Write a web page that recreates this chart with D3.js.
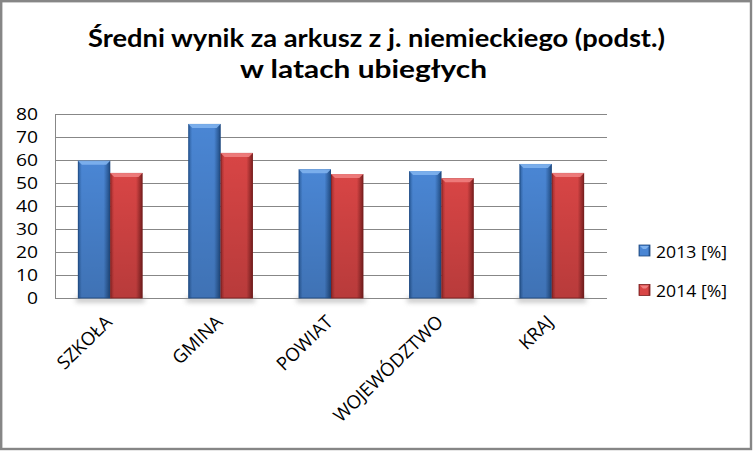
<!DOCTYPE html>
<html>
<head>
<meta charset="utf-8">
<script src="https://cdn.jsdelivr.net/npm/d3@7"></script>
<style>
  body { margin: 0; background: #fff; }
  text { font-family: "Open Sans", "DejaVu Sans", sans-serif; fill: #000; }
</style>
</head>
<body>
<div id="chart"></div>
<script>
const categories = ["SZKOŁA", "GMINA", "POWIAT", "WOJEWÓDZTWO", "KRAJ"]
const series = ["2013 [%]", "2014 [%]"]
const values2013 = [59.8, 75.8, 56.1, 55.3, 58.4]
const values2014 = [54.5, 63.2, 54.0, 52.2, 54.5]
const yTicks = [0, 10, 20, 30, 40, 50, 60, 70, 80]
const titleLines = ["Średni wynik za arkusz z j. niemieckiego (podst.)", "w latach ubiegłych"]

const W = 753, H = 451
const plot = {left: 55, right: 607, top: 114.3, bottom: 298.3}
const colors = [
  {mid: "#4a86d4", edge: "#2b5d9c", dark: "#1f4a80", bevel: "#7fb2ee"},
  {mid: "#d84545", edge: "#9e2b2b", dark: "#7a1f1f", bevel: "#f08080"}
]

const svg = d3.select("#chart").append("svg").attr("width", W).attr("height", H)
const defs = svg.append("defs")

colors.forEach((c, i) => {
  const g = defs.append("linearGradient").attr("id", "bar" + i).attr("x1", 0).attr("x2", 1).attr("y1", 0).attr("y2", 0)
  g.append("stop").attr("offset", 0).attr("stop-color", c.edge)
  g.append("stop").attr("offset", 0.12).attr("stop-color", c.mid)
  g.append("stop").attr("offset", 0.8).attr("stop-color", c.mid)
  g.append("stop").attr("offset", 1).attr("stop-color", c.dark)
  const v = defs.append("linearGradient").attr("id", "shade" + i).attr("x1", 0).attr("x2", 0).attr("y1", 0).attr("y2", 1)
  v.append("stop").attr("offset", 0).attr("stop-color", "#000").attr("stop-opacity", 0)
  v.append("stop").attr("offset", 1).attr("stop-color", "#000").attr("stop-opacity", 0.15)
})
defs.append("filter").attr("id", "blur").attr("x", "-20%").attr("y", "-100%").attr("width", "140%").attr("height", "300%")
  .append("feGaussianBlur").attr("stdDeviation", 2.5)

// frame
svg.append("rect").attr("x", 1.2).attr("y", 1.2).attr("width", W - 3.2).attr("height", H - 3.2)
  .attr("fill", "#fff").attr("stroke", "#868686").attr("stroke-width", 2.4)

// title
svg.selectAll("text.title").data(titleLines).join("text").attr("class", "title")
  .attr("x", (d, i) => i ? 363.5 : 376.5).attr("y", (d, i) => i ? 78 : 46.7)
  .attr("text-anchor", "middle").attr("font-size", 24).attr("font-weight", "bold")
  .style("font-family", "Lato, sans-serif")
  .attr("textLength", (d, i) => i ? 247 : 577).attr("lengthAdjust", "spacingAndGlyphs")
  .text(d => d)

const x0 = d3.scaleBand().domain(categories).range([plot.left, plot.right]).paddingInner(0).paddingOuter(0)
const bw = 32.3
const x1 = d3.scaleBand().domain(series).range([0, bw * 2])
const y = d3.scaleLinear().domain([0, 80]).range([plot.bottom, plot.top])

// grid
svg.append("g").selectAll("line").data(yTicks).join("line")
  .attr("x1", plot.left).attr("x2", plot.right)
  .attr("y1", d => Math.round(y(d)) + 0.5).attr("y2", d => Math.round(y(d)) + 0.5)
  .attr("stroke", "#878787").attr("stroke-width", 1)
svg.append("line").attr("x1", plot.left + 0.5).attr("x2", plot.left + 0.5)
  .attr("y1", y(80)).attr("y2", y(0)).attr("stroke", "#878787")

// y axis labels
const yAxis = svg.append("g").attr("transform", `translate(${plot.left - 17},0)`)
  .call(d3.axisLeft(y).tickValues(yTicks).tickSize(0).tickPadding(0))
yAxis.select(".domain").remove()
yAxis.selectAll("text").attr("font-size", 16).attr("fill", "#000")
  .attr("font-family", "\"Open Sans\", sans-serif").attr("dy", "0.35em")
  .attr("textLength", d => String(d).length * 11).attr("lengthAdjust", "spacingAndGlyphs")

// bars
const data = categories.map((c, i) => ({cat: c, vals: [values2013[i], values2014[i]]}))
const groups = svg.append("g").selectAll("g").data(data).join("g")
  .attr("transform", d => `translate(${x0(d.cat) + x0.bandwidth() / 2 - bw},0)`)

// shadow under each group
groups.append("rect").attr("x", -2).attr("y", plot.bottom - 1).attr("width", bw * 2 + 4).attr("height", 5)
  .attr("fill", "#999").attr("opacity", 0.6).attr("filter", "url(#blur)")

const bars = groups.selectAll("g.bar").data(d => d.vals.map((v, i) => ({v, i, s: series[i]})))
  .join("g").attr("class", "bar").attr("transform", d => `translate(${x1(d.s)},0)`)

bars.append("rect").attr("x", 0).attr("width", bw).attr("y", d => y(d.v)).attr("height", d => y(0) - y(d.v))
  .attr("fill", d => `url(#bar${d.i})`)
bars.append("rect").attr("x", 0).attr("width", bw).attr("y", d => y(d.v)).attr("height", d => y(0) - y(d.v))
  .attr("fill", d => `url(#shade${d.i})`)
bars.append("rect").attr("x", 0.5).attr("width", bw - 1).attr("y", d => y(d.v) + 0.5).attr("height", d => y(0) - y(d.v) - 1)
  .attr("fill", "none").attr("stroke", d => colors[d.i].dark).attr("stroke-opacity", 0.6)
bars.append("path").attr("d", d => {
  const t = y(d.v), b = 4
  return `M0,${t}L${bw},${t}L${bw - b},${t + b}L${b},${t + b}Z`
}).attr("fill", d => colors[d.i].bevel).attr("opacity", 0.9)

// x labels
svg.append("g").selectAll("text").data(categories).join("text")
  .attr("transform", d => `translate(${x0(d) + x0.bandwidth() / 2 + 3},${plot.bottom + 25}) rotate(-44)`)
  .attr("text-anchor", "end").attr("font-size", 18.5)
  .text(d => d)

// legend
const legend = svg.append("g").selectAll("g").data(series).join("g")
  .attr("transform", (d, i) => `translate(639,${245 + i * 39.5})`)
legend.append("rect").attr("width", 11).attr("height", 11)
  .attr("fill", (d, i) => `url(#bar${i})`).attr("stroke", (d, i) => colors[i].dark).attr("stroke-width", 0.8)
legend.append("path").attr("d", "M1,1L10,1L7,4L4,4Z").attr("fill", (d, i) => colors[i].bevel)
legend.append("text").attr("x", 17).attr("y", 12.5).attr("font-size", 15.5)
  .attr("textLength", 71).attr("lengthAdjust", "spacingAndGlyphs").text(d => d)
</script>
</body>
</html>
